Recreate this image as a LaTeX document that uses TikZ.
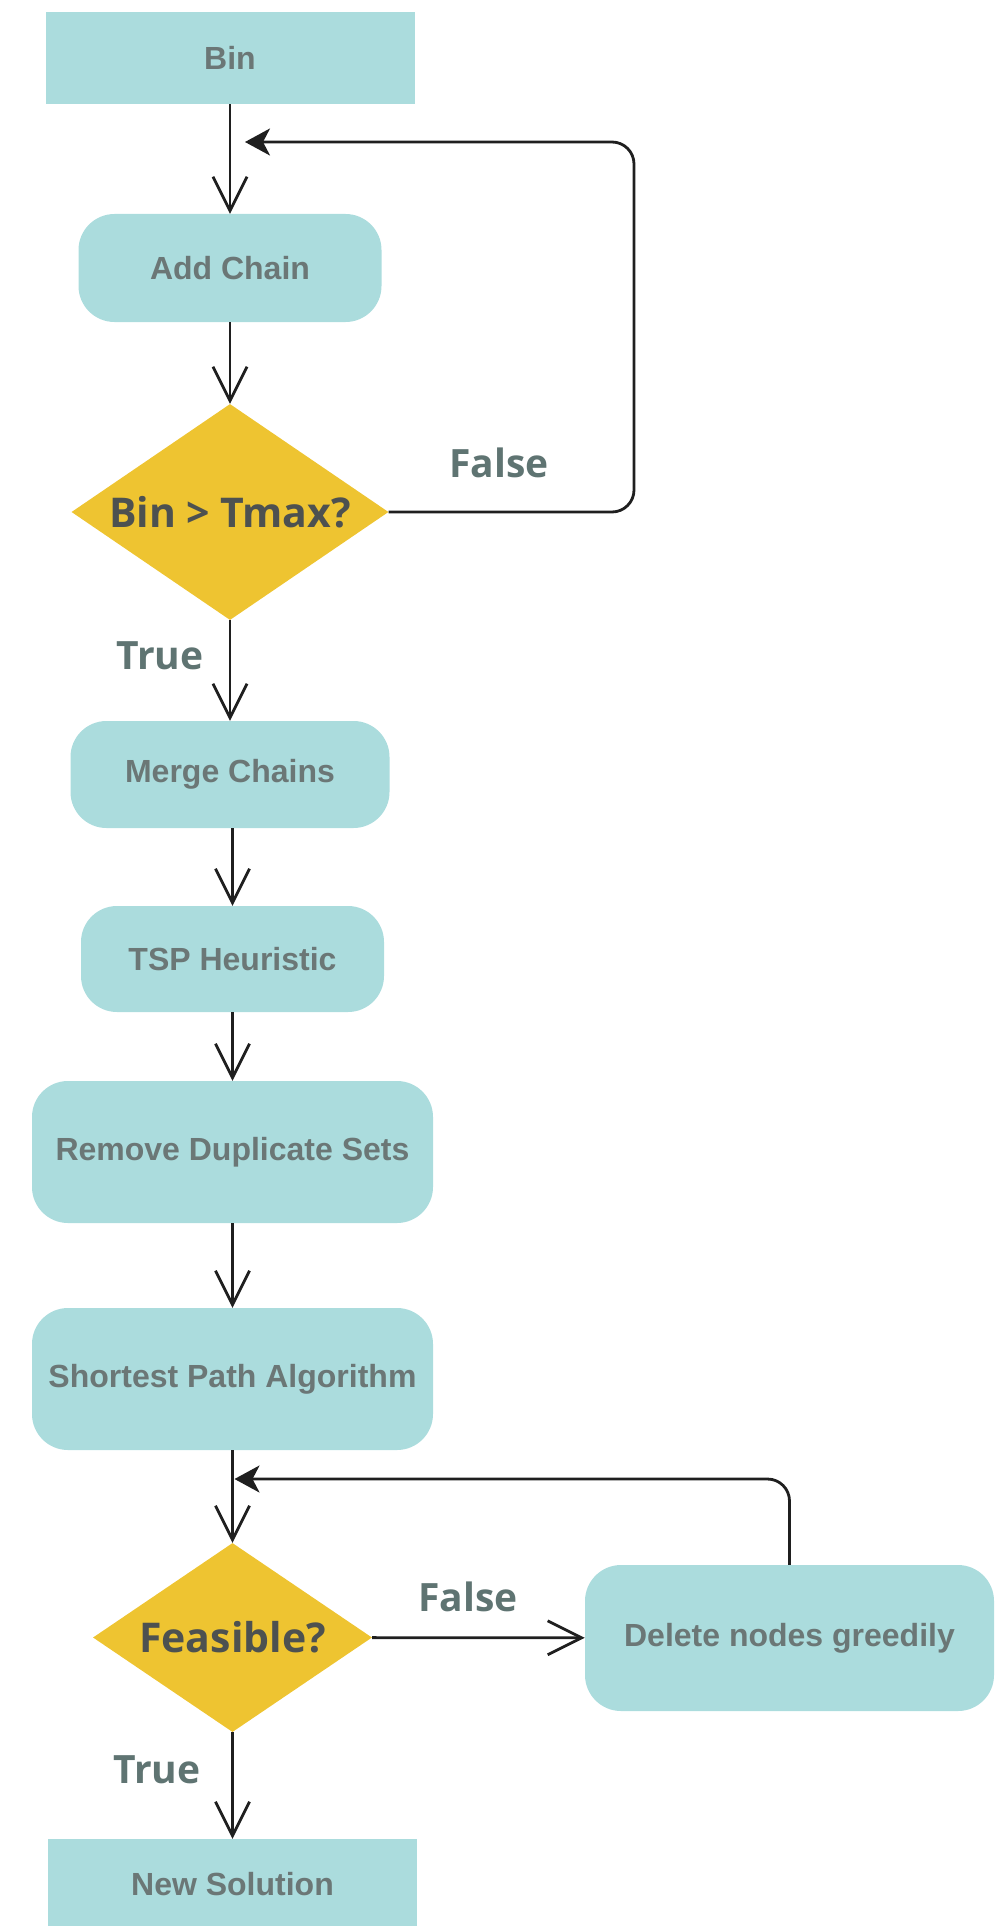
\documentclass[tikz,border=0pt]{standalone}
\usepackage{fontspec}
\setmainfont{Liberation Sans}
\newfontfamily\labelfont{Open Sans}
\usetikzlibrary{arrows.meta,shapes.geometric}
\definecolor{boxfill}{HTML}{ABDCDD}
\definecolor{boxtext}{HTML}{6B7776}
\definecolor{decfill}{HTML}{EEC431}
\definecolor{dectext}{HTML}{4D5150}
\definecolor{lbltext}{HTML}{5F7472}
\definecolor{linecol}{HTML}{1F1F1F}
\begin{document}
\begin{tikzpicture}[x=1pt,y=-1pt,
  stepbox/.style={fill=boxfill, text=boxtext, inner sep=0pt,
    font=\fontsize{32}{38}\selectfont\bfseries},
  roundbox/.style={stepbox, rounded corners=36pt},
  decision/.style={shape=diamond, fill=decfill, text=dectext, inner sep=0pt,
    font=\fontsize{41}{48}\selectfont\labelfont\bfseries},
  branch/.style={text=lbltext, inner sep=0pt,
    font=\fontsize{39}{46}\selectfont\labelfont\bfseries},
  flow/.style={draw=linecol, line width=2.8pt,
    -{Straight Barb[length=34pt,width=34pt]}},
  back/.style={draw=linecol, line width=2.8pt, rounded corners=22pt,
    -{Stealth[length=25pt,width=27pt,inset=7pt]}}]
\useasboundingbox (0,0) rectangle (1003,1926);
\clip (0,0) rectangle (1003,1926);

% process boxes
\node[stepbox, minimum width=369pt, minimum height=92pt] (bin) at (230,58) {Bin};
\node[roundbox, minimum width=303pt, minimum height=108pt] (add) at (230,268) {Add Chain};
\node[decision, aspect=1.47, minimum width=317pt, minimum height=216pt] (tmax) at (230,512) {Bin > Tmax?};
\node[roundbox, minimum width=319pt, minimum height=107pt] (merge) at (230,774.5) {Merge Chains};
\node[roundbox, minimum width=303pt, minimum height=106pt] (tsp) at (232.5,959) {TSP Heuristic};
\node[roundbox, minimum width=401pt, minimum height=142pt] (dup) at (232.5,1152) {Remove Duplicate Sets};
\node[roundbox, minimum width=401pt, minimum height=142pt] (spa) at (232.5,1379) {Shortest Path Algorithm};
\node[decision, aspect=1.476, minimum width=279pt, minimum height=189pt] (feas) at (232.5,1637.5) {Feasible?};
\node[roundbox, minimum width=409pt, minimum height=146pt] (del) at (789.5,1638) {Delete nodes greedily};
\node[stepbox, minimum width=369pt, minimum height=90pt] (sol) at (232.5,1884) {New Solution};

% branch labels
\node[branch] (f1) at (499,463) {False};
\node[branch] (t1) at (160,656) {True};
\node[branch] (f2) at (468,1597) {False};
\node[branch] (t2) at (157,1770) {True};

% loop-back targets on the main line
\coordinate (j1) at (245,142);
\coordinate (j2) at (234.5,1479);

% forward connectors
\draw[flow] (bin) -- (add);
\draw[flow] (add) -- (tmax);
\draw[flow] (tmax) -- (merge);
\draw[flow] (tsp.north |- merge.south) -- (tsp.north);
\draw[flow] (tsp) -- (dup);
\draw[flow] (dup) -- (spa);
\draw[flow] (spa) -- (feas);
\draw[flow] (feas) -- (del);
\draw[flow] (feas) -- (sol);

% loop-back connectors
\draw[back] (tmax.east) -- (634,512) -- (634,142) -- (j1);
\draw[back] (del.north) |- (j2);
\end{tikzpicture}
\end{document}
